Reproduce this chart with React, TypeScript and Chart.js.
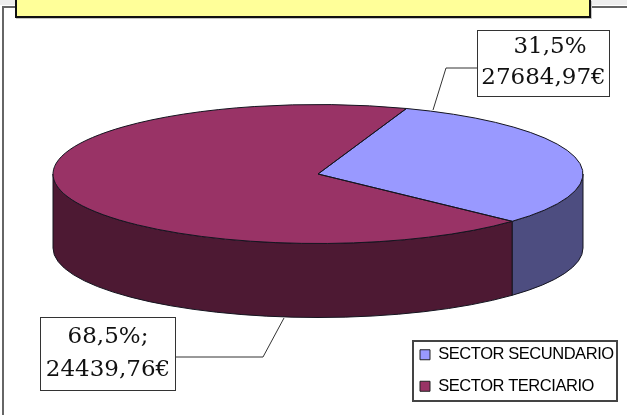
import React, { useEffect, useRef } from "react";
import { Chart, registerables } from "chart.js";

Chart.register(...registerables);

const categories = ["SECTOR SECUNDARIO", "SECTOR TERCIARIO"];
const shares = [31.5, 68.5];
const shareLabels = ["31,5%", "68,5%;"];
const euroLabels = ["27684,97€", "24439,76€"];
const topColors = ["#9999FF", "#993366"];
const sideColors = ["#4D4D80", "#4D1933"];

const CX = 318, CY = 174, RX = 265, RY = 69.5, DEPTH = 74;
const OUTLINE = "#14141f";
const TWO_PI = Math.PI * 2;

function visibleSide(start: number, end: number): [number, number] | null {
  let s = start % TWO_PI;
  if (s < 0) s += TWO_PI;
  const e = s + (end - start);
  const ranges: Array<[number, number]> = [[0, Math.PI], [TWO_PI, TWO_PI + Math.PI]];
  for (const [a, b] of ranges) {
    const lo = Math.max(s, a), hi = Math.min(e, b);
    if (hi > lo) return [lo, hi];
  }
  return null;
}

const pie3d = {
  id: "pie3d",
  afterLayout(chart: any) {
    const l = chart.legend;
    l.left = 405; l.top = 331.5; l.right = 627; l.bottom = 410;
    l.width = l.right - l.left; l.height = l.bottom - l.top;
  },
  beforeDraw(chart: any) {
    chart.ctx.letterSpacing = "-0.45px";
  },
  beforeDatasetsDraw(chart: any) {
    const ctx = chart.ctx;
    const arcs = chart.getDatasetMeta(0).data;
    arcs.forEach((el: any, i: number) => {
      const r = visibleSide(el.startAngle, el.endAngle);
      if (!r) return;
      ctx.beginPath();
      ctx.ellipse(CX, CY, RX, RY, 0, r[0], r[1]);
      ctx.ellipse(CX, CY + DEPTH, RX, RY, 0, r[1], r[0], true);
      ctx.closePath();
      ctx.fillStyle = sideColors[i];
      ctx.fill();
      ctx.strokeStyle = OUTLINE;
      ctx.lineWidth = 1;
      ctx.stroke();
    });
    const el0 = arcs[0];
    ctx.save();
    ctx.translate(CX, CY);
    ctx.scale(RX / el0.outerRadius, RY / el0.outerRadius);
    ctx.translate(-el0.x, -el0.y);
  },
  afterDatasetsDraw(chart: any) {
    const ctx = chart.ctx;
    ctx.restore();
    chart.getDatasetMeta(0).data.forEach((el: any) => {
      ctx.beginPath();
      ctx.moveTo(CX, CY);
      ctx.ellipse(CX, CY, RX, RY, 0, el.startAngle, el.endAngle);
      ctx.closePath();
      ctx.strokeStyle = OUTLINE;
      ctx.lineWidth = 1;
      ctx.stroke();
    });
  },
  afterDraw(chart: any) {
    const ctx = chart.ctx;
    ctx.save();
    ctx.letterSpacing = "0px";
    // outer frame
    ctx.fillStyle = "#eeeeee";
    ctx.fillRect(0, 0, 627, 5);
    ctx.strokeStyle = "#666666";
    ctx.lineWidth = 2;
    ctx.beginPath();
    ctx.moveTo(3, 415);
    ctx.lineTo(3, 7);
    ctx.lineTo(627, 7);
    ctx.stroke();
    // title plate (its text is cropped out of the picture)
    ctx.fillStyle = "#c4c4c4";
    ctx.fillRect(16, 1, 576, 18);
    ctx.fillStyle = "#FFFF99";
    ctx.fillRect(16, -2, 574, 19);
    ctx.strokeStyle = "#111111";
    ctx.strokeRect(16, -2, 574, 19);
    // legend frame
    ctx.strokeStyle = "#444444";
    ctx.strokeRect(413, 341, 204, 60);
    // data label boxes with leaders
    const boxes = [
      { x: 477.5, y: 30.5, w: 132, h: 66, cx: [550, 543.5], ys: [47, 78], leader: [[433, 110], [446, 68], [477, 68]] },
      { x: 40.5, y: 317.5, w: 135, h: 73, cx: [108, 108], ys: [337, 370], leader: [[284, 318], [263, 357], [175, 357]] },
    ];
    boxes.forEach((b, i) => {
      ctx.strokeStyle = "#333333";
      ctx.lineWidth = 1;
      ctx.beginPath();
      b.leader.forEach(([x, y], k) => (k ? ctx.lineTo(x, y) : ctx.moveTo(x, y)));
      ctx.stroke();
      ctx.fillStyle = "#ffffff";
      ctx.fillRect(b.x, b.y, b.w, b.h);
      ctx.strokeRect(b.x, b.y, b.w, b.h);
      ctx.fillStyle = "#111111";
      ctx.font = "23px 'DejaVu Serif'";
      ctx.textAlign = "center";
      ctx.textBaseline = "middle";
      ctx.fillText(shareLabels[i], b.cx[0], b.ys[0]);
      ctx.fillText(euroLabels[i], b.cx[1], b.ys[1]);
    });
    ctx.restore();
  },
};

export default function App() {
  const ref = useRef<HTMLCanvasElement>(null);
  useEffect(() => {
    const chart = new Chart(ref.current!, {
      type: "pie",
      data: {
        labels: categories,
        datasets: [{ data: shares, backgroundColor: topColors, borderWidth: 0 }],
      },
      options: {
        responsive: false,
        animation: false,
        rotation: 19.5,
        plugins: {
          tooltip: { enabled: false },
          legend: {
            position: "right",
            align: "start",
            labels: {
              boxWidth: 10,
              boxHeight: 10,
              padding: 15,
              color: "#1a1a3a",
              font: { family: "'Liberation Sans'", size: 16.5 },
              generateLabels: () =>
                categories.map((text, i) => ({
                  text,
                  fillStyle: topColors[i],
                  strokeStyle: "#222222",
                  lineWidth: 1,
                  index: i,
                })),
            },
          },
        },
      } as any,
      plugins: [pie3d],
    });
    return () => chart.destroy();
  }, []);
  return (
    <div style={{ position: "fixed", left: 0, top: 0 }}>
      <canvas ref={ref} width={627} height={415} style={{ display: "block" }} />
    </div>
  );
}
